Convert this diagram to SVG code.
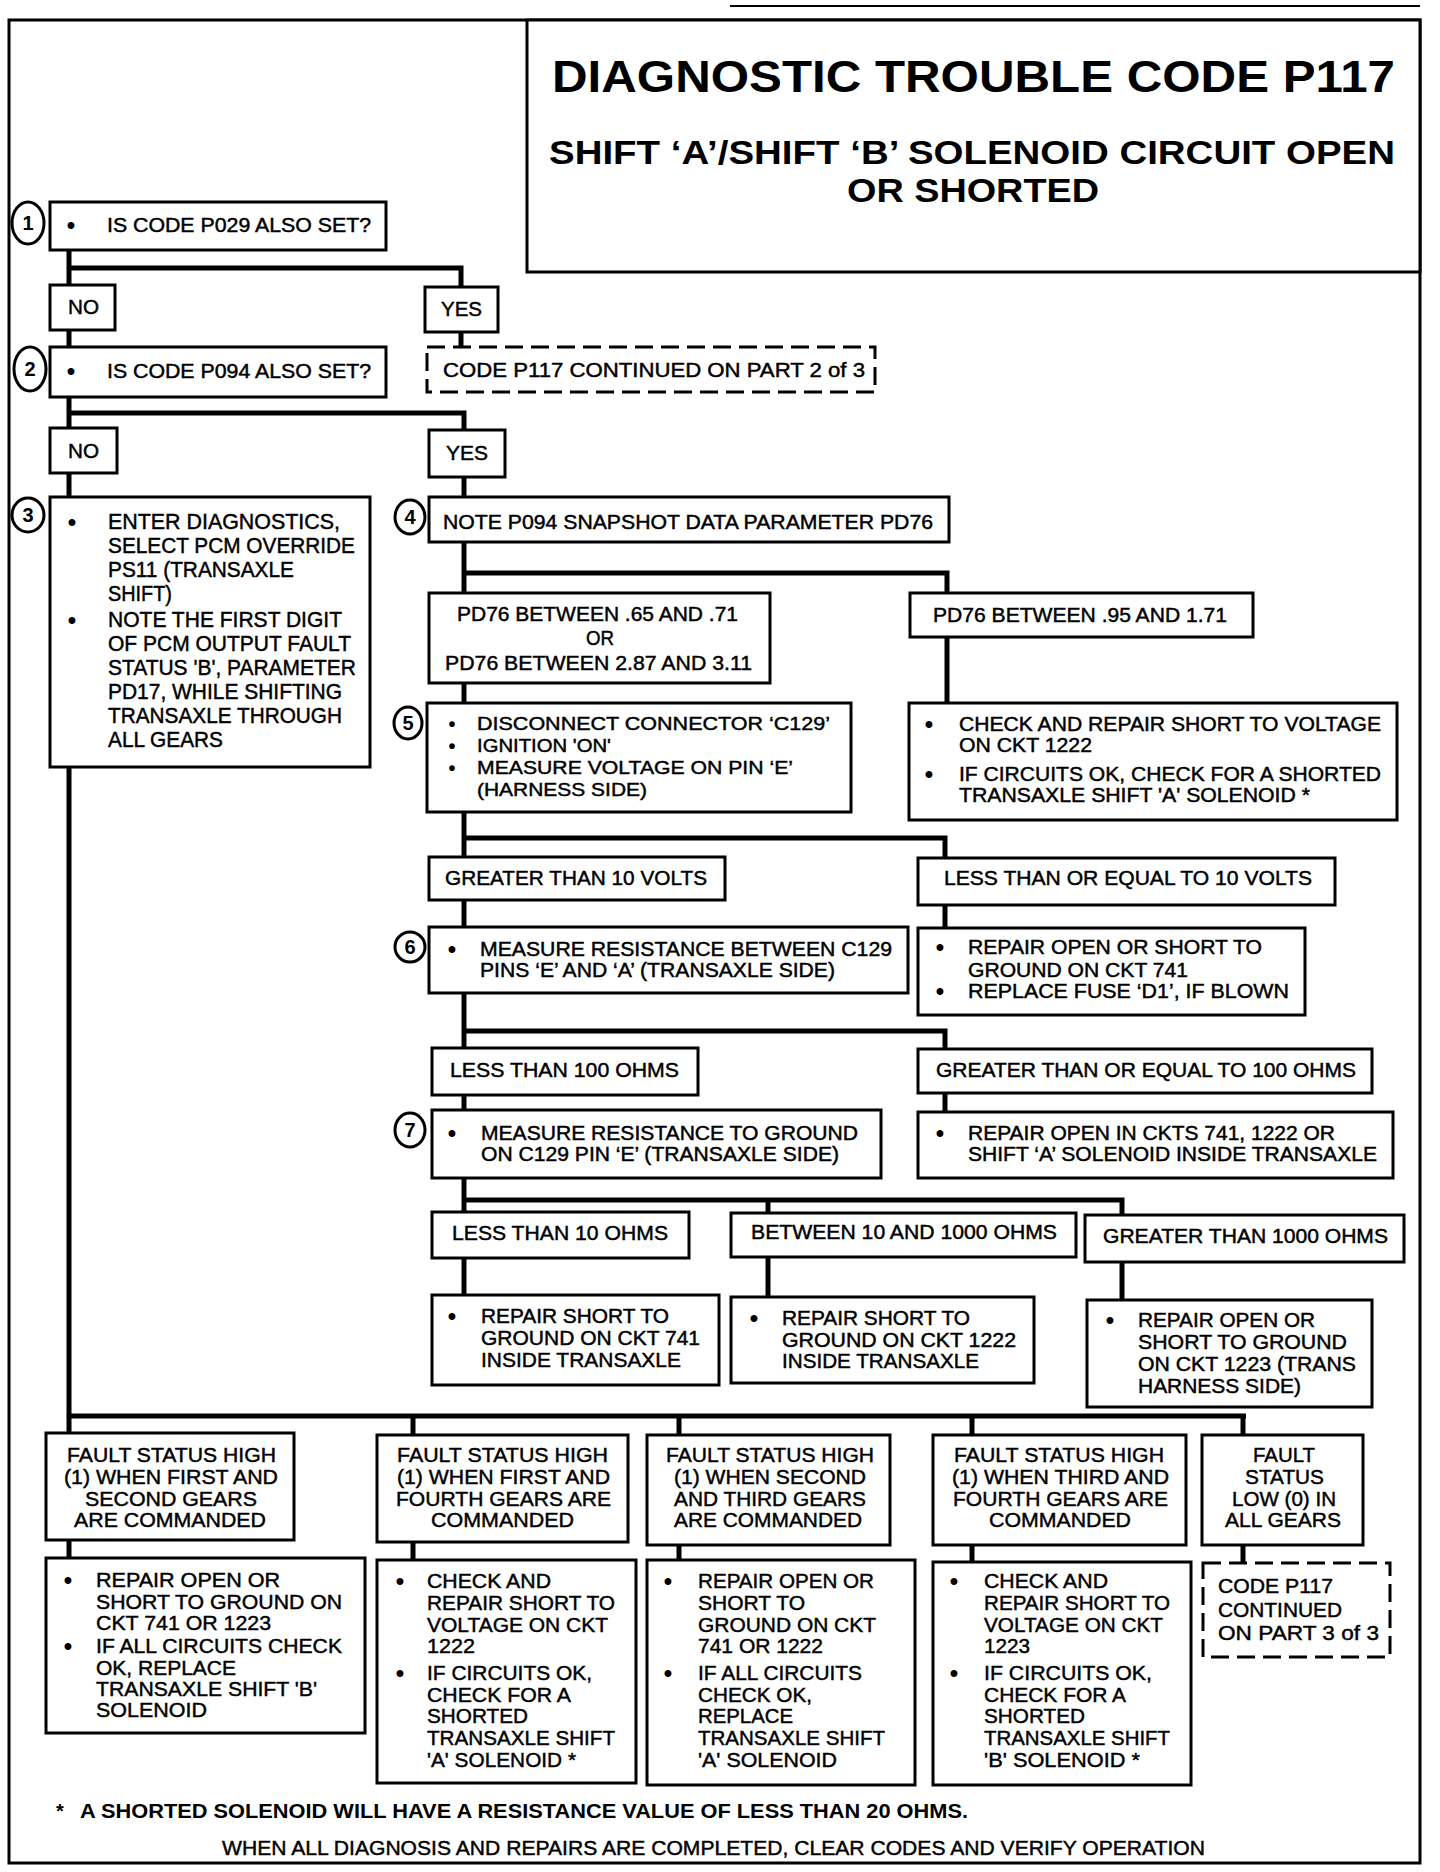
<svg xmlns="http://www.w3.org/2000/svg" width="1440" height="1872" viewBox="0 0 1440 1872">
<style>
.t{font-family:"Liberation Sans",Arial,sans-serif;font-size:21px;fill:#000;stroke:#000;stroke-width:0.45}
.s{font-size:20px}
.l{font-size:22px}
.b{font-weight:bold;stroke-width:0}
.h1{font-size:44px}
.h2{font-size:33px}
.fn{font-size:20px}
.bu{font-family:"Liberation Sans",Arial,sans-serif;font-size:24px;font-weight:bold;fill:#000;text-anchor:middle}
.bs{font-size:20px}
.box{fill:#fff;stroke:#000;stroke-width:3}
.dash{fill:#fff;stroke:#000;stroke-width:3;stroke-dasharray:18 8}
.conn{fill:none;stroke:#000;stroke-width:5}
.circ{fill:#fff;stroke:#000;stroke-width:3}
.num{font-family:"Liberation Sans",Arial,sans-serif;font-size:20px;font-weight:bold;text-anchor:middle}
</style>
<rect width="1440" height="1872" fill="#fff"/>
<g id="frame" fill="none" stroke="#000">
<line x1="730" y1="6" x2="1420" y2="6" stroke-width="2"/>
<rect x="9" y="20" width="1411" height="1843" stroke-width="3"/>
</g>
<g id="title">
<rect x="527" y="20" width="893" height="252" fill="#fff" stroke="#000" stroke-width="3"/>
<text class="t b h1" x="552" y="92" textLength="843" lengthAdjust="spacingAndGlyphs">DIAGNOSTIC TROUBLE CODE P117</text>
<text class="t b h2" x="549" y="164" textLength="846" lengthAdjust="spacingAndGlyphs">SHIFT ‘A’/SHIFT ‘B’ SOLENOID CIRCUIT OPEN</text>
<text class="t b h2" x="847" y="202" textLength="252" lengthAdjust="spacingAndGlyphs">OR SHORTED</text>
</g>
<g id="connectors" class="conn">
<path d="M69 250 V1433"/>
<path d="M69 268 H461 V287"/>
<path d="M461 332 V347"/>
<path d="M69 413 H464 V430"/>
<path d="M464 477 V497"/>
<path d="M464 542 V593"/>
<path d="M464 573 H947 V593"/>
<path d="M947 637 V703"/>
<path d="M464 683 V703"/>
<path d="M464 812 V857"/>
<path d="M464 838 H945 V858"/>
<path d="M945 905 V928"/>
<path d="M464 900 V927"/>
<path d="M464 993 V1048"/>
<path d="M464 1031 H945 V1049"/>
<path d="M945 1093 V1112"/>
<path d="M464 1095 V1110"/>
<path d="M464 1178 V1212"/>
<path d="M464 1200 H1122 V1215"/>
<path d="M768 1200 V1213"/>
<path d="M464 1258 V1295"/>
<path d="M768 1257 V1297"/>
<path d="M1122 1262 V1300"/>
<path d="M69 1416 H1246"/>
<path d="M413 1416 V1435"/>
<path d="M679 1416 V1435"/>
<path d="M972 1416 V1435"/>
<path d="M1243 1416 V1435"/>
<path d="M69 1540 V1558"/>
<path d="M413 1542 V1560"/>
<path d="M679 1545 V1560"/>
<path d="M972 1545 V1562"/>
<path d="M1243 1545 V1563"/>
</g>
<g id="n1">
<ellipse class="circ" cx="28" cy="223" rx="16" ry="21"/>
<text class="num" x="28" y="230">1</text>
<rect class="box" x="50" y="202" width="336" height="48"/>
<text class="bu" x="71" y="233">•</text>
<text class="t s" x="107" y="232" textLength="264" lengthAdjust="spacingAndGlyphs">IS CODE P029 ALSO SET?</text>
</g>
<g id="no1"><rect class="box" x="50" y="285" width="65" height="45"/><text class="t" x="68" y="314" textLength="31" lengthAdjust="spacingAndGlyphs">NO</text></g>
<g id="yes1"><rect class="box" x="425" y="287" width="73" height="45"/><text class="t" x="441" y="316" textLength="41" lengthAdjust="spacingAndGlyphs">YES</text></g>
<g id="n2">
<ellipse class="circ" cx="30" cy="369" rx="16" ry="22"/>
<text class="num" x="30" y="376">2</text>
<rect class="box" x="50" y="347" width="336" height="50"/>
<text class="bu" x="71" y="379">•</text>
<text class="t s" x="107" y="378" textLength="264" lengthAdjust="spacingAndGlyphs">IS CODE P094 ALSO SET?</text>
</g>
<g id="cont2">
<rect class="dash" x="427" y="347" width="448" height="45"/>
<text class="t s" x="443" y="377" textLength="422" lengthAdjust="spacingAndGlyphs">CODE P117 CONTINUED ON PART 2 of 3</text>
</g>
<g id="no2"><rect class="box" x="50" y="428" width="67" height="45"/><text class="t" x="68" y="458" textLength="31" lengthAdjust="spacingAndGlyphs">NO</text></g>
<g id="yes2"><rect class="box" x="429" y="430" width="76" height="47"/><text class="t" x="446" y="460" textLength="42" lengthAdjust="spacingAndGlyphs">YES</text></g>
<g id="n3">
<ellipse class="circ" cx="28" cy="515" rx="16" ry="17"/>
<text class="num" x="28" y="522">3</text>
<rect class="box" x="50" y="497" width="320" height="270"/>
<text class="bu" x="72" y="530">•</text>
<text class="t l" x="108" y="529" textLength="232" lengthAdjust="spacingAndGlyphs">ENTER DIAGNOSTICS,</text>
<text class="t l" x="108" y="553" textLength="247" lengthAdjust="spacingAndGlyphs">SELECT PCM OVERRIDE</text>
<text class="t l" x="108" y="577" textLength="186" lengthAdjust="spacingAndGlyphs">PS11 (TRANSAXLE</text>
<text class="t l" x="108" y="601" textLength="64" lengthAdjust="spacingAndGlyphs">SHIFT)</text>
<text class="bu" x="72" y="628">•</text>
<text class="t l" x="108" y="627" textLength="234" lengthAdjust="spacingAndGlyphs">NOTE THE FIRST DIGIT</text>
<text class="t l" x="108" y="651" textLength="243" lengthAdjust="spacingAndGlyphs">OF PCM OUTPUT FAULT</text>
<text class="t l" x="108" y="675" textLength="248" lengthAdjust="spacingAndGlyphs">STATUS 'B', PARAMETER</text>
<text class="t l" x="108" y="699" textLength="234" lengthAdjust="spacingAndGlyphs">PD17, WHILE SHIFTING</text>
<text class="t l" x="108" y="723" textLength="234" lengthAdjust="spacingAndGlyphs">TRANSAXLE THROUGH</text>
<text class="t l" x="108" y="747" textLength="115" lengthAdjust="spacingAndGlyphs">ALL GEARS</text>
</g>
<g id="n4">
<ellipse class="circ" cx="410" cy="517" rx="15" ry="17"/>
<text class="num" x="410" y="524">4</text>
<rect class="box" x="429" y="497" width="520" height="45"/>
<text class="t s" x="443" y="529" textLength="490" lengthAdjust="spacingAndGlyphs">NOTE P094 SNAPSHOT DATA PARAMETER PD76</text>
</g>
<g id="pd76a">
<rect class="box" x="429" y="593" width="341" height="90"/>
<text class="t s" x="457" y="621" textLength="281" lengthAdjust="spacingAndGlyphs">PD76 BETWEEN .65 AND .71</text>
<text class="t s" x="586" y="645" textLength="28" lengthAdjust="spacingAndGlyphs">OR</text>
<text class="t s" x="445" y="670" textLength="307" lengthAdjust="spacingAndGlyphs">PD76 BETWEEN 2.87 AND 3.11</text>
</g>
<g id="pd76b">
<rect class="box" x="910" y="593" width="343" height="44"/>
<text class="t s" x="933" y="622" textLength="294" lengthAdjust="spacingAndGlyphs">PD76 BETWEEN .95 AND 1.71</text>
</g>
<g id="n5">
<ellipse class="circ" cx="408" cy="723" rx="14" ry="16"/>
<text class="num" x="408" y="730">5</text>
<rect class="box" x="427" y="703" width="424" height="109"/>
<text class="bu bs" x="452" y="731">•</text>
<text class="t s" x="477" y="730" style="font-size:19px" textLength="353" lengthAdjust="spacingAndGlyphs">DISCONNECT CONNECTOR ‘C129’</text>
<text class="bu bs" x="452" y="753">•</text>
<text class="t s" x="477" y="752" style="font-size:19px" textLength="134" lengthAdjust="spacingAndGlyphs">IGNITION 'ON'</text>
<text class="bu bs" x="452" y="775">•</text>
<text class="t s" x="477" y="774" style="font-size:19px" textLength="316" lengthAdjust="spacingAndGlyphs">MEASURE VOLTAGE ON PIN ‘E’</text>
<text class="t s" x="477" y="796" style="font-size:19px" textLength="170" lengthAdjust="spacingAndGlyphs">(HARNESS SIDE)</text>
</g>
<g id="chk1222">
<rect class="box" x="909" y="703" width="488" height="117"/>
<text class="bu" x="929" y="732">•</text>
<text class="t s" x="959" y="731" textLength="422" lengthAdjust="spacingAndGlyphs">CHECK AND REPAIR SHORT TO VOLTAGE</text>
<text class="t s" x="959" y="752" textLength="133" lengthAdjust="spacingAndGlyphs">ON CKT 1222</text>
<text class="bu" x="929" y="782">•</text>
<text class="t s" x="959" y="781" textLength="422" lengthAdjust="spacingAndGlyphs">IF CIRCUITS OK, CHECK FOR A SHORTED</text>
<text class="t s" x="959" y="802" textLength="351" lengthAdjust="spacingAndGlyphs">TRANSAXLE SHIFT 'A' SOLENOID *</text>
</g>
<g id="gt10v">
<rect class="box" x="429" y="857" width="296" height="43"/>
<text class="t s" x="445" y="885" textLength="262" lengthAdjust="spacingAndGlyphs">GREATER THAN 10 VOLTS</text>
</g>
<g id="le10v">
<rect class="box" x="918" y="858" width="417" height="47"/>
<text class="t s" x="944" y="885" textLength="368" lengthAdjust="spacingAndGlyphs">LESS THAN OR EQUAL TO 10 VOLTS</text>
</g>
<g id="n6">
<ellipse class="circ" cx="410" cy="947" rx="15" ry="15"/>
<text class="num" x="410" y="954">6</text>
<rect class="box" x="429" y="927" width="479" height="66"/>
<text class="bu" x="452" y="957">•</text>
<text class="t s" x="480" y="956" textLength="412" lengthAdjust="spacingAndGlyphs">MEASURE  RESISTANCE BETWEEN C129</text>
<text class="t s" x="480" y="977" textLength="355" lengthAdjust="spacingAndGlyphs">PINS ‘E’ AND ‘A’ (TRANSAXLE SIDE)</text>
</g>
<g id="rep741">
<rect class="box" x="918" y="928" width="387" height="87"/>
<text class="bu" x="940" y="955">•</text>
<text class="t s" x="968" y="954" textLength="294" lengthAdjust="spacingAndGlyphs">REPAIR OPEN OR SHORT TO</text>
<text class="t s" x="968" y="977" textLength="220" lengthAdjust="spacingAndGlyphs">GROUND ON CKT 741</text>
<text class="bu" x="940" y="999">•</text>
<text class="t s" x="968" y="998" textLength="321" lengthAdjust="spacingAndGlyphs">REPLACE FUSE ‘D1’,  IF BLOWN</text>
</g>
<g id="lt100">
<rect class="box" x="432" y="1048" width="266" height="47"/>
<text class="t s" x="450" y="1077" textLength="229" lengthAdjust="spacingAndGlyphs">LESS THAN 100 OHMS</text>
</g>
<g id="ge100">
<rect class="box" x="918" y="1049" width="454" height="44"/>
<text class="t s" x="936" y="1077" textLength="420" lengthAdjust="spacingAndGlyphs">GREATER THAN OR EQUAL TO 100 OHMS</text>
</g>
<g id="n7">
<ellipse class="circ" cx="410" cy="1130" rx="15" ry="17"/>
<text class="num" x="410" y="1137">7</text>
<rect class="box" x="432" y="1110" width="449" height="68"/>
<text class="bu" x="452" y="1141">•</text>
<text class="t s" x="481" y="1140" textLength="377" lengthAdjust="spacingAndGlyphs">MEASURE RESISTANCE TO GROUND</text>
<text class="t s" x="481" y="1161" textLength="358" lengthAdjust="spacingAndGlyphs">ON C129 PIN ‘E’ (TRANSAXLE SIDE)</text>
</g>
<g id="repckts">
<rect class="box" x="918" y="1112" width="475" height="66"/>
<text class="bu" x="940" y="1141">•</text>
<text class="t s" x="968" y="1140" textLength="367" lengthAdjust="spacingAndGlyphs">REPAIR OPEN IN CKTS 741, 1222 OR</text>
<text class="t s" x="968" y="1161" textLength="409" lengthAdjust="spacingAndGlyphs">SHIFT ‘A’ SOLENOID INSIDE TRANSAXLE</text>
</g>
<g id="lt10">
<rect class="box" x="432" y="1212" width="257" height="46"/>
<text class="t s" x="452" y="1240" textLength="216" lengthAdjust="spacingAndGlyphs">LESS THAN 10 OHMS</text>
</g>
<g id="btw">
<rect class="box" x="731" y="1213" width="345" height="44"/>
<text class="t s" x="751" y="1239" textLength="306" lengthAdjust="spacingAndGlyphs">BETWEEN 10 AND 1000 OHMS</text>
</g>
<g id="gt1000">
<rect class="box" x="1085" y="1215" width="319" height="47"/>
<text class="t s" x="1103" y="1243" textLength="285" lengthAdjust="spacingAndGlyphs">GREATER THAN 1000 OHMS</text>
</g>
<g id="rs741">
<rect class="box" x="432" y="1295" width="287" height="90"/>
<text class="bu" x="452" y="1324">•</text>
<text class="t s" x="481" y="1323" textLength="188" lengthAdjust="spacingAndGlyphs">REPAIR SHORT TO</text>
<text class="t s" x="481" y="1345" textLength="219" lengthAdjust="spacingAndGlyphs">GROUND ON CKT 741</text>
<text class="t s" x="481" y="1367" textLength="200" lengthAdjust="spacingAndGlyphs">INSIDE TRANSAXLE</text>
</g>
<g id="rs1222">
<rect class="box" x="731" y="1297" width="303" height="86"/>
<text class="bu" x="754" y="1326">•</text>
<text class="t s" x="782" y="1325" textLength="188" lengthAdjust="spacingAndGlyphs">REPAIR SHORT TO</text>
<text class="t s" x="782" y="1347" textLength="234" lengthAdjust="spacingAndGlyphs">GROUND ON CKT 1222</text>
<text class="t s" x="782" y="1368" textLength="197" lengthAdjust="spacingAndGlyphs">INSIDE TRANSAXLE</text>
</g>
<g id="ro1223">
<rect class="box" x="1087" y="1300" width="285" height="107"/>
<text class="bu" x="1110" y="1328">•</text>
<text class="t s" x="1138" y="1327" textLength="177" lengthAdjust="spacingAndGlyphs">REPAIR OPEN OR</text>
<text class="t s" x="1138" y="1349" textLength="209" lengthAdjust="spacingAndGlyphs">SHORT TO GROUND</text>
<text class="t s" x="1138" y="1371" textLength="218" lengthAdjust="spacingAndGlyphs">ON CKT 1223 (TRANS</text>
<text class="t s" x="1138" y="1393" textLength="163" lengthAdjust="spacingAndGlyphs">HARNESS SIDE)</text>
</g>
<g id="fs1">
<rect class="box" x="46" y="1433" width="248" height="107"/>
<text class="t" x="67" y="1462" textLength="209" lengthAdjust="spacingAndGlyphs">FAULT STATUS HIGH</text>
<text class="t" x="64" y="1484" textLength="214" lengthAdjust="spacingAndGlyphs">(1) WHEN FIRST AND</text>
<text class="t" x="85" y="1506" textLength="172" lengthAdjust="spacingAndGlyphs">SECOND GEARS</text>
<text class="t" x="74" y="1527" textLength="192" lengthAdjust="spacingAndGlyphs">ARE COMMANDED</text>
</g>
<g id="fs2">
<rect class="box" x="377" y="1435" width="251" height="107"/>
<text class="t" x="397" y="1462" textLength="211" lengthAdjust="spacingAndGlyphs">FAULT STATUS HIGH</text>
<text class="t" x="397" y="1484" textLength="213" lengthAdjust="spacingAndGlyphs">(1) WHEN FIRST AND</text>
<text class="t" x="396" y="1506" textLength="215" lengthAdjust="spacingAndGlyphs">FOURTH GEARS ARE</text>
<text class="t" x="431" y="1527" textLength="143" lengthAdjust="spacingAndGlyphs">COMMANDED</text>
</g>
<g id="fs3">
<rect class="box" x="647" y="1435" width="243" height="110"/>
<text class="t" x="666" y="1462" textLength="208" lengthAdjust="spacingAndGlyphs">FAULT STATUS HIGH</text>
<text class="t" x="674" y="1484" textLength="192" lengthAdjust="spacingAndGlyphs">(1) WHEN SECOND</text>
<text class="t" x="674" y="1506" textLength="192" lengthAdjust="spacingAndGlyphs">AND THIRD GEARS</text>
<text class="t" x="674" y="1527" textLength="188" lengthAdjust="spacingAndGlyphs">ARE COMMANDED</text>
</g>
<g id="fs4">
<rect class="box" x="933" y="1435" width="253" height="110"/>
<text class="t" x="954" y="1462" textLength="210" lengthAdjust="spacingAndGlyphs">FAULT STATUS HIGH</text>
<text class="t" x="952" y="1484" textLength="217" lengthAdjust="spacingAndGlyphs">(1) WHEN THIRD AND</text>
<text class="t" x="953" y="1506" textLength="215" lengthAdjust="spacingAndGlyphs">FOURTH GEARS ARE</text>
<text class="t" x="989" y="1527" textLength="142" lengthAdjust="spacingAndGlyphs">COMMANDED</text>
</g>
<g id="fs5">
<rect class="box" x="1202" y="1435" width="161" height="110"/>
<text class="t" x="1253" y="1462" textLength="62" lengthAdjust="spacingAndGlyphs">FAULT</text>
<text class="t" x="1245" y="1484" textLength="79" lengthAdjust="spacingAndGlyphs">STATUS</text>
<text class="t" x="1232" y="1506" textLength="104" lengthAdjust="spacingAndGlyphs">LOW (0) IN</text>
<text class="t" x="1225" y="1527" textLength="116" lengthAdjust="spacingAndGlyphs">ALL GEARS</text>
</g>
<g id="r1">
<rect class="box" x="46" y="1558" width="319" height="175"/>
<text class="bu" x="68" y="1588">•</text>
<text class="t" x="96" y="1587" textLength="184" lengthAdjust="spacingAndGlyphs">REPAIR  OPEN OR</text>
<text class="t" x="96" y="1609" textLength="246" lengthAdjust="spacingAndGlyphs">SHORT TO GROUND ON</text>
<text class="t" x="96" y="1630" textLength="175" lengthAdjust="spacingAndGlyphs">CKT 741 OR 1223</text>
<text class="bu" x="68" y="1654">•</text>
<text class="t" x="96" y="1653" textLength="246" lengthAdjust="spacingAndGlyphs">IF ALL CIRCUITS CHECK</text>
<text class="t" x="96" y="1675" textLength="140" lengthAdjust="spacingAndGlyphs">OK, REPLACE</text>
<text class="t" x="96" y="1696" textLength="221" lengthAdjust="spacingAndGlyphs">TRANSAXLE SHIFT 'B'</text>
<text class="t" x="96" y="1717" textLength="111" lengthAdjust="spacingAndGlyphs">SOLENOID</text>
</g>
<g id="r2">
<rect class="box" x="377" y="1560" width="259" height="223"/>
<text class="bu" x="400" y="1589">•</text>
<text class="t" x="427" y="1588" textLength="124" lengthAdjust="spacingAndGlyphs">CHECK AND</text>
<text class="t" x="427" y="1610" textLength="188" lengthAdjust="spacingAndGlyphs">REPAIR SHORT TO</text>
<text class="t" x="427" y="1632" textLength="181" lengthAdjust="spacingAndGlyphs">VOLTAGE ON CKT</text>
<text class="t" x="427" y="1653" textLength="48" lengthAdjust="spacingAndGlyphs">1222</text>
<text class="bu" x="400" y="1681">•</text>
<text class="t" x="427" y="1680" textLength="165" lengthAdjust="spacingAndGlyphs">IF CIRCUITS OK,</text>
<text class="t" x="427" y="1702" textLength="144" lengthAdjust="spacingAndGlyphs">CHECK FOR A</text>
<text class="t" x="427" y="1723" textLength="101" lengthAdjust="spacingAndGlyphs">SHORTED</text>
<text class="t" x="427" y="1745" textLength="188" lengthAdjust="spacingAndGlyphs">TRANSAXLE SHIFT</text>
<text class="t" x="427" y="1767" textLength="149" lengthAdjust="spacingAndGlyphs">'A' SOLENOID *</text>
</g>
<g id="r3">
<rect class="box" x="647" y="1560" width="268" height="225"/>
<text class="bu" x="668" y="1589">•</text>
<text class="t" x="698" y="1588" textLength="176" lengthAdjust="spacingAndGlyphs">REPAIR OPEN OR</text>
<text class="t" x="698" y="1610" textLength="107" lengthAdjust="spacingAndGlyphs">SHORT TO</text>
<text class="t" x="698" y="1632" textLength="178" lengthAdjust="spacingAndGlyphs">GROUND ON CKT</text>
<text class="t" x="698" y="1653" textLength="125" lengthAdjust="spacingAndGlyphs">741 OR 1222</text>
<text class="bu" x="668" y="1681">•</text>
<text class="t" x="698" y="1680" textLength="164" lengthAdjust="spacingAndGlyphs">IF ALL CIRCUITS</text>
<text class="t" x="698" y="1702" textLength="114" lengthAdjust="spacingAndGlyphs">CHECK OK,</text>
<text class="t" x="698" y="1723" textLength="95" lengthAdjust="spacingAndGlyphs">REPLACE</text>
<text class="t" x="698" y="1745" textLength="187" lengthAdjust="spacingAndGlyphs">TRANSAXLE SHIFT</text>
<text class="t" x="698" y="1767" textLength="139" lengthAdjust="spacingAndGlyphs">'A' SOLENOID</text>
</g>
<g id="r4">
<rect class="box" x="933" y="1562" width="258" height="223"/>
<text class="bu" x="954" y="1589">•</text>
<text class="t" x="984" y="1588" textLength="124" lengthAdjust="spacingAndGlyphs">CHECK AND</text>
<text class="t" x="984" y="1610" textLength="186" lengthAdjust="spacingAndGlyphs">REPAIR SHORT TO</text>
<text class="t" x="984" y="1632" textLength="179" lengthAdjust="spacingAndGlyphs">VOLTAGE ON CKT</text>
<text class="t" x="984" y="1653" textLength="46" lengthAdjust="spacingAndGlyphs">1223</text>
<text class="bu" x="954" y="1681">•</text>
<text class="t" x="984" y="1680" textLength="168" lengthAdjust="spacingAndGlyphs">IF CIRCUITS OK,</text>
<text class="t" x="984" y="1702" textLength="142" lengthAdjust="spacingAndGlyphs">CHECK FOR A</text>
<text class="t" x="984" y="1723" textLength="101" lengthAdjust="spacingAndGlyphs">SHORTED</text>
<text class="t" x="984" y="1745" textLength="186" lengthAdjust="spacingAndGlyphs">TRANSAXLE SHIFT</text>
<text class="t" x="984" y="1767" textLength="156" lengthAdjust="spacingAndGlyphs">'B' SOLENOID *</text>
</g>
<g id="cont3">
<rect class="dash" x="1203" y="1563" width="187" height="94"/>
<text class="t" x="1218" y="1593" textLength="115" lengthAdjust="spacingAndGlyphs">CODE P117</text>
<text class="t" x="1218" y="1617" textLength="124" lengthAdjust="spacingAndGlyphs">CONTINUED</text>
<text class="t" x="1218" y="1640" textLength="161" lengthAdjust="spacingAndGlyphs">ON  PART 3 of 3</text>
</g>
<g id="notes">
<text class="t b fn" x="56" y="1818">*</text>
<text class="t b fn" x="80" y="1818" textLength="888" lengthAdjust="spacingAndGlyphs">A SHORTED SOLENOID WILL HAVE A RESISTANCE VALUE OF LESS THAN 20 OHMS.</text>
<text class="t" x="222" y="1855" textLength="983" lengthAdjust="spacingAndGlyphs">WHEN ALL DIAGNOSIS AND REPAIRS ARE COMPLETED, CLEAR CODES AND VERIFY OPERATION</text>
</g>
</svg>
